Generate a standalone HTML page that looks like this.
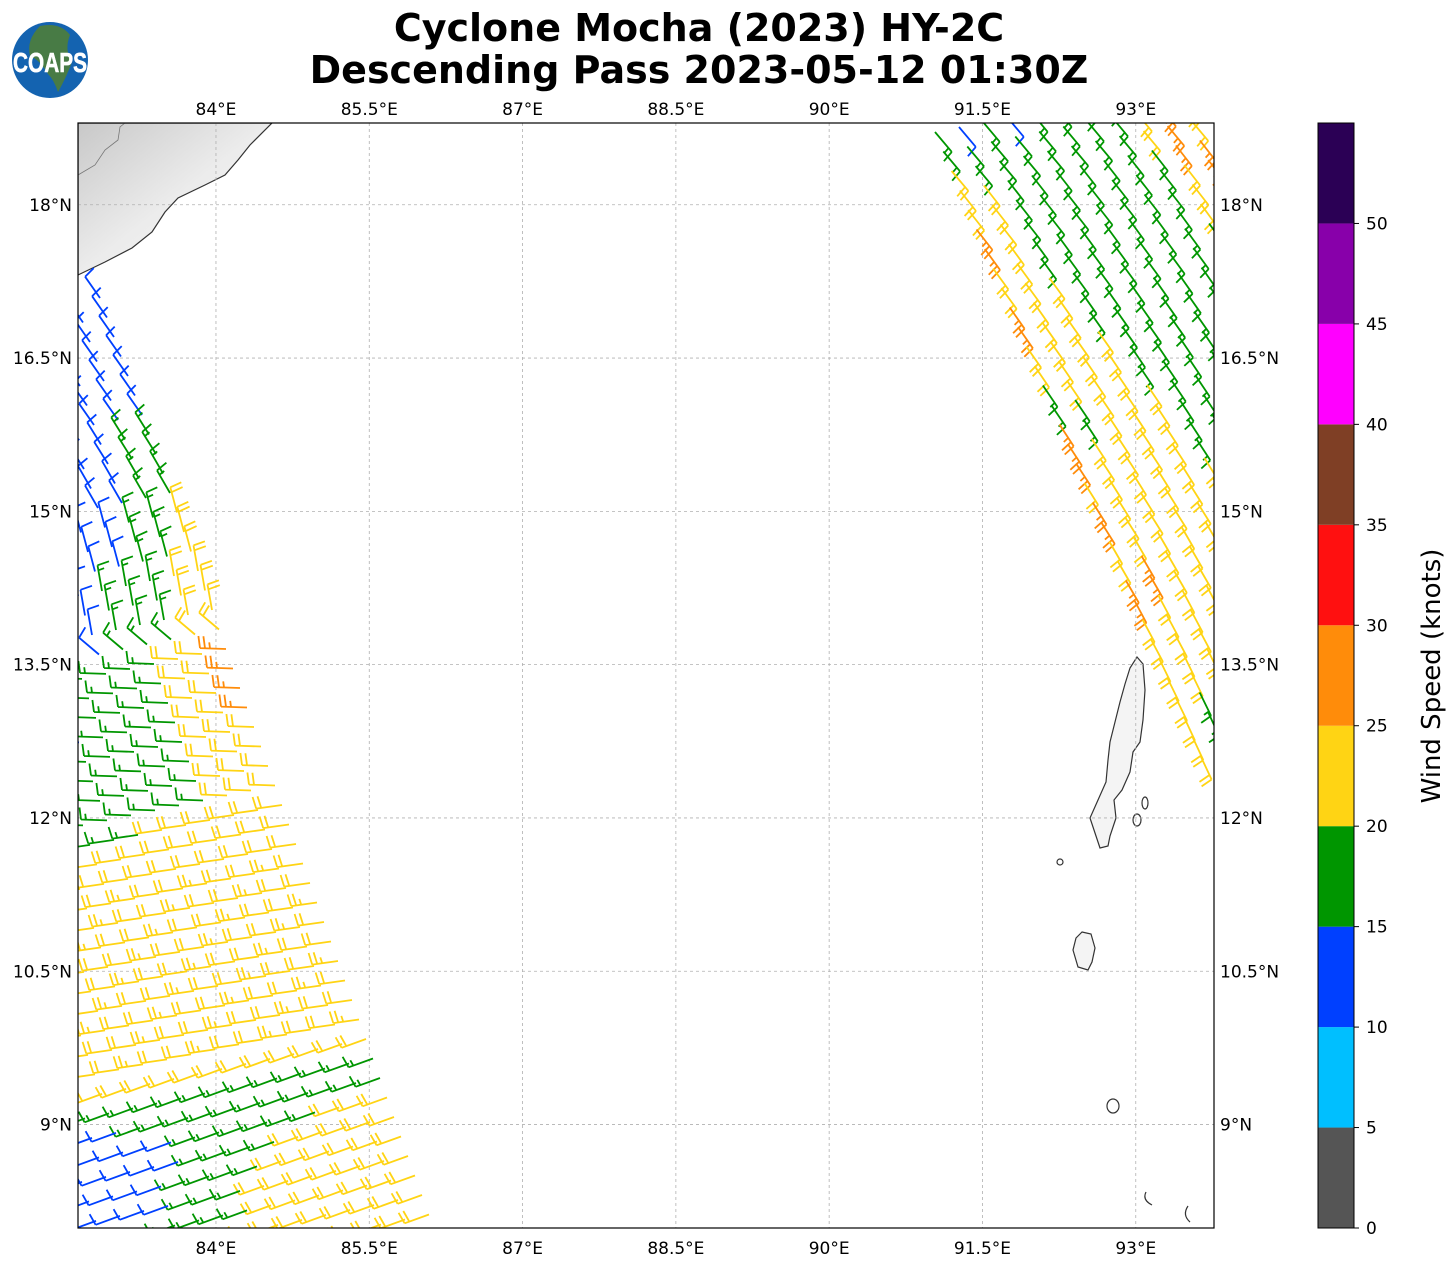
<!DOCTYPE html>
<html><head><meta charset="utf-8"><style>
html,body{margin:0;padding:0;background:#fff;}
svg{display:block;font-family:"DejaVu Sans","Liberation Sans",sans-serif;}
</style></head><body>
<svg id="chart" width="1455" height="1264" viewBox="0 0 1455 1264" xmlns="http://www.w3.org/2000/svg">
<defs>
<clipPath id="frameClip"><rect x="78" y="123" width="1136" height="1105"/></clipPath>
<linearGradient id="landGrad" x1="0" y1="0" x2="1" y2="1">
<stop offset="0" stop-color="#c8c8c8"/><stop offset="0.5" stop-color="#ececec"/><stop offset="1" stop-color="#f8f8f8"/>
</linearGradient>
</defs>
<g>
<circle cx="50" cy="60" r="38" fill="#1463b0"/>
<path d="M40 26 Q60 22 70 35 Q64 50 72 62 Q66 78 58 92 Q54 80 48 74 Q40 60 30 56 Q26 40 40 26Z" fill="#4e7d3a" opacity="0.9"/>
<text x="50" y="72" text-anchor="middle" font-size="28" font-weight="bold" fill="#fff" stroke="#fff" stroke-width="0.6" textLength="74" lengthAdjust="spacingAndGlyphs" font-family="Liberation Sans Narrow,Liberation Sans,sans-serif">COAPS</text>
</g>
<text x="699" y="41" text-anchor="middle" font-size="38" font-weight="bold">Cyclone Mocha (2023) HY-2C</text>
<text x="699" y="83" text-anchor="middle" font-size="38" font-weight="bold">Descending Pass 2023-05-12 01:30Z</text>
<g id="mapLayer" clip-path="url(#frameClip)">
<path d="M78 123 L272 123 L250 145 L238 160 L225 175 L205 185 L178 198 L165 212 L152 232 L132 248 L105 262 L78 275 Z" fill="url(#landGrad)" stroke="#333" stroke-width="1.2"/>
<path d="M78 175 L95 165 L105 150 L118 140 L120 127 L125 123" fill="none" stroke="#777" stroke-width="0.8"/>
<path d="M1137 657 L1143 664 L1145 690 L1143 720 L1140 742 L1133 752 L1130 772 L1122 790 L1114 800 L1116 818 L1110 836 L1108 846 L1100 848 L1096 836 L1090 818 L1098 800 L1106 782 L1108 760 L1110 742 L1115 722 L1120 702 L1125 684 L1130 668 Z" fill="#f4f4f4" stroke="#333" stroke-width="1.2"/>
<path d="M1082 932 L1091 934 L1095 948 L1092 962 L1088 970 L1078 967 L1073 950 L1076 938 Z" fill="#f4f4f4" stroke="#333" stroke-width="1.2"/>
<ellipse cx="1113" cy="1106" rx="6" ry="7" fill="none" stroke="#333" stroke-width="1.2"/>
<ellipse cx="1060" cy="862" rx="3" ry="3" fill="none" stroke="#333" stroke-width="1.2"/>
<ellipse cx="1145" cy="803" rx="3" ry="6" fill="none" stroke="#333" stroke-width="1.2"/>
<ellipse cx="1137" cy="820" rx="4" ry="6" fill="none" stroke="#333" stroke-width="1.2"/>
<path d="M1146 1192 Q1142 1200 1152 1205" fill="none" stroke="#333" stroke-width="1.2"/>
<path d="M1188 1206 Q1182 1215 1190 1222" fill="none" stroke="#333" stroke-width="1.2"/>
<g id="gridLayer"></g>
<g id="barbLayer"></g>
</g>
<rect x="78" y="123" width="1136" height="1105" fill="none" stroke="#000" stroke-width="1.2"/>
<g id="axisLayer"></g>
<g id="cbarLayer"></g>
<text transform="translate(1440,676) rotate(-90)" text-anchor="middle" font-size="26">Wind Speed (knots)</text>
</svg>
<script>
const lonTicks=[84,85.5,87,88.5,90,91.5,93];
const latTicks=[18,16.5,15,13.5,12,10.5,9];
const cbarBounds=[0,5,10,15,20,25,30,35,40,45,50,55];
const cbarColors=["#555555","#00bfff","#0040ff","#009600","#ffd414","#ff8c0a","#ff1010","#7f3f25","#ff00ff","#8800aa","#2b0055"];
const cbarTickLabels=[0,5,10,15,20,25,30,35,40,45,50];

// Left swath: geometry (orbit) and per-scan-row speeds (knots), col 0 = eastern edge
const leftStart=[82.865,17.088];
const leftAlong=[0.0685,-0.1908];
const leftCross=[-0.2348,-0.0489];
const leftSpeeds=[
[12,12],[12,12],[12,12],[12,12,12],[12,12,12],[12,12,12],[12,12,12],
[17,17,12,12],[17,17,12,12],[17,17,12,12,12],[17,17,12,12,12],
[22,17,17,12,12,12],[22,17,17,12,12,12],[22,17,17,12,12,12],
[22,22,17,17,17,12,12],[22,22,17,17,17,12,12],[22,22,17,17,17,12,12],[22,22,17,17,17,12,12],
[27,22,22,17,17,17,17,12],[27,22,22,17,17,17,17,12],[27,22,22,17,17,17,17,12],[27,22,22,17,17,17,17,12],
[22,22,22,17,17,17,17,17,17,12],[22,22,22,17,17,17,17,17,17,12],[22,22,22,17,17,17,17,17,17,12],[22,22,22,17,17,17,17,17,17,17],
[22,22,22,22,22,22,17,17,17,17],
[22,22,22,22,22,22,22,22,22,17,17],[22,22,22,22,22,22,22,22,22,22,17],
[22,23,22,22,23,22,22,23,22,22,22,22,22],[22,22,23,22,22,23,22,22,23,22,22,22,22],[23,22,22,23,22,22,23,22,22,23,22,22,22],
[22,23,22,22,23,22,22,23,22,22,23,22,22],[22,22,23,22,22,23,22,22,23,22,22,23,22],[23,22,22,23,22,22,23,22,22,23,22,22,23],
[22,23,22,22,23,22,22,23,22,22,23,22,22],[22,22,23,22,22,23,22,22,23,22,22,23,22],[23,22,22,23,22,22,23,22,22,23,22,22,23],
[22,22,22,22,22,22,22,22,22,22,22,22,22,17],
[17,17,17,17,17,17,17,17,17,17,17,17,17,17],
[17,17,17,17,17,17,17,17,17,17,17,12,12,12],
[22,22,22,17,17,17,17,17,17,12,12,12,12,12],
[22,22,22,22,22,17,17,17,17,12,12,12,12,12],
[22,22,22,22,22,22,17,17,17,17,12,12,12,12,12],
[22,22,22,22,22,22,22,17,17,17,12,12,12,12,12],
[22,22,22,22,22,22,22,17,17,17,17,12,12,12,12],
[22,22,22,22,22,22,22,22,17,17,17,17,17,17,17],
[22,22,22,22,22,22]
];
const leftDir=[325,325,325,325,325,325,325,328,328,330,330,345,345,345,350,350,350,310,272,272,272,272,272,272,272,272,262,262,262,262,262,262,262,262,262,262,262,262,250,250,250,250,250,250,250,250,250,250];

// Right swath
const rightStart=[91.036,18.712];
const rightAlong=[0.0812,-0.1908];
const rightCross=[0.2348,0.0489];
const rightSpeeds=[
[17,12,17,12,17,17,17,17,22,27,17,17],
[17,17,17,17,17,17,17,17,22,27,22,17],
[22,17,17,17,17,17,17,17,22,27,22,17],
[22,22,17,17,17,17,17,17,17,27,27,22],
[22,22,17,17,17,17,17,17,17,22,27,22],
[27,22,17,17,17,17,17,17,17,22,27,22],
[27,22,17,17,17,17,17,17,17,22,27,27],
[22,22,17,17,17,17,17,17,17,17,27,27],
[22,22,22,17,17,17,17,17,17,17,22,27],
[27,22,22,17,17,17,17,17,17,17,22,27],
[27,22,22,17,17,17,17,17,17,17,17,22],
[22,22,22,22,17,17,17,17,17,17,17,22],
[22,22,22,22,17,17,17,17,17,17,17],
[17,22,22,22,17,17,17,17,17,17],
[17,17,22,22,22,17,17,17,17,17],
[27,17,22,22,22,17,17,17,17,12],
[27,22,22,22,22,17,17,17,17],
[27,22,22,22,22,17,17,17,17],
[22,22,22,22,22,22,17,17,17],
[27,22,22,22,22,22,17,17,17],
[27,22,22,22,22,22,22,17],
[22,22,22,22,22,22,22,17],
[22,27,22,22,22,27,22],
[27,27,22,22,22,27,22],
[27,22,22,22,27,27],
[22,22,22,22,27,27],
[22,22,22,22,22],
[22,22,22,22],
[22,22,22,17],
[22,17,22],
[22,17,22],
[22,22],
[22]
];
const rightDir=[140,140,140,142,142,142,144,144,144,145,145,145,146,146,146,147,147,147,148,148,148,150,150,150,152,152,152,154,154,154,155,155,155];

const NS="http://www.w3.org/2000/svg";
function lonToX(lon){return 78+(lon-82.65)*102.2;}
function latToY(lat){return 123+(18.8-lat)*102.2;}
function cbarY(v){return 1228-v*(1105/55);}
function colorFor(s){for(let i=0;i<cbarBounds.length-1;i++){if(s<cbarBounds[i+1])return cbarColors[i];}return cbarColors[cbarColors.length-1];}
function mk(tag,attrs,parent){const e=document.createElementNS(NS,tag);for(const k in attrs)e.setAttribute(k,attrs[k]);parent.appendChild(e);return e;}

const grid=document.getElementById('gridLayer');
lonTicks.forEach(function(l){
  const x=lonToX(l);
  const g=mk('line',{x1:x,y1:123,x2:x,y2:1228,stroke:'#b0b0b0','stroke-width':0.8,'stroke-dasharray':'3,3'},grid);
  
  
});
latTicks.forEach(function(l){
  const y=latToY(l);
  const g=mk('line',{x1:78,y1:y,x2:1214,y2:y,stroke:'#b0b0b0','stroke-width':0.8,'stroke-dasharray':'3,3'},grid);
  
  
});

const axis=document.getElementById('axisLayer');
function fmtLon(l){return (Number.isInteger(l)?l:l.toFixed(1))+'°E';}
function fmtLat(l){return (Number.isInteger(l)?l:l.toFixed(1))+'°N';}
lonTicks.forEach(function(l){
  const x=lonToX(l);
  [[115,'top'],[1254,'bottom']].forEach(function(p){
    const t=mk('text',{x:x,y:p[0],'text-anchor':'middle','font-size':17},axis);
    t.textContent=fmtLon(l);
    
    
  });
});
latTicks.forEach(function(l){
  const y=latToY(l)+6;
  const t1=mk('text',{x:72,y:y,'text-anchor':'end','font-size':17},axis);
  t1.textContent=fmtLat(l);
  
  
  const t2=mk('text',{x:1220,y:y,'text-anchor':'start','font-size':17},axis);
  t2.textContent=fmtLat(l);
  
  
});

const cb=document.getElementById('cbarLayer');
for(let i=0;i<cbarColors.length;i++){
  const y1=cbarY(cbarBounds[i+1]),y0=cbarY(cbarBounds[i]);
  const r=mk('rect',{x:1318,y:y1,width:36,height:y0-y1,fill:cbarColors[i]},cb);
  
  
}
mk('rect',{x:1318,y:123,width:36,height:1105,fill:'none',stroke:'#000','stroke-width':1},cb);
cbarTickLabels.forEach(function(v){
  const y=cbarY(v);
  mk('line',{x1:1354,y1:y,x2:1359,y2:y,stroke:'#000','stroke-width':1},cb);
  const t=mk('text',{x:1366,y:y+6,'font-size':17},cb);
  t.textContent=v;
  
  
});

const barbs=document.getElementById('barbLayer');
function drawBarb(lon,lat,speed,bearing){
  const x=lonToX(lon),y=latToY(lat);
  const b=bearing*Math.PI/180;
  const dx=Math.sin(b),dy=-Math.cos(b);
  const tx=-dy,ty=dx;
  const L=26;
  const tipX=x+L*dx,tipY=y+L*dy;
  let d='M'+x.toFixed(1)+' '+y.toFixed(1)+'L'+tipX.toFixed(1)+' '+tipY.toFixed(1);
  let s=Math.round(speed/5)*5;
  let full=Math.floor(s/10),half=(s%10)>=5?1:0;
  let pos=0;
  for(let k=0;k<full;k++){
    const px=tipX-pos*dx,py=tipY-pos*dy;
    d+='M'+px.toFixed(1)+' '+py.toFixed(1)+'L'+(px+12*tx+2*dx).toFixed(1)+' '+(py+12*ty+2*dy).toFixed(1);
    pos+=5;
  }
  if(half){
    if(full===0)pos=5;
    const px=tipX-pos*dx,py=tipY-pos*dy;
    d+='M'+px.toFixed(1)+' '+py.toFixed(1)+'L'+(px+6*tx+1*dx).toFixed(1)+' '+(py+6*ty+1*dy).toFixed(1);
  }
  const p=mk('path',{d:d,fill:'none',stroke:colorFor(speed),'stroke-width':1.8,'stroke-linecap':'butt'},barbs);
  
  
}
function drawSwath(start,along,cross,speeds,dirs){
  speeds.forEach(function(row,r){
    row.forEach(function(sp,c){
      const lon=start[0]+along[0]*r+cross[0]*c;
      const lat=start[1]+along[1]*r+cross[1]*c;
      drawBarb(lon,lat,sp,dirs[r]);
    });
  });
}
drawSwath(leftStart,leftAlong,leftCross,leftSpeeds,leftDir);
drawSwath(rightStart,rightAlong,rightCross,rightSpeeds,rightDir);
</script>
</body></html>
